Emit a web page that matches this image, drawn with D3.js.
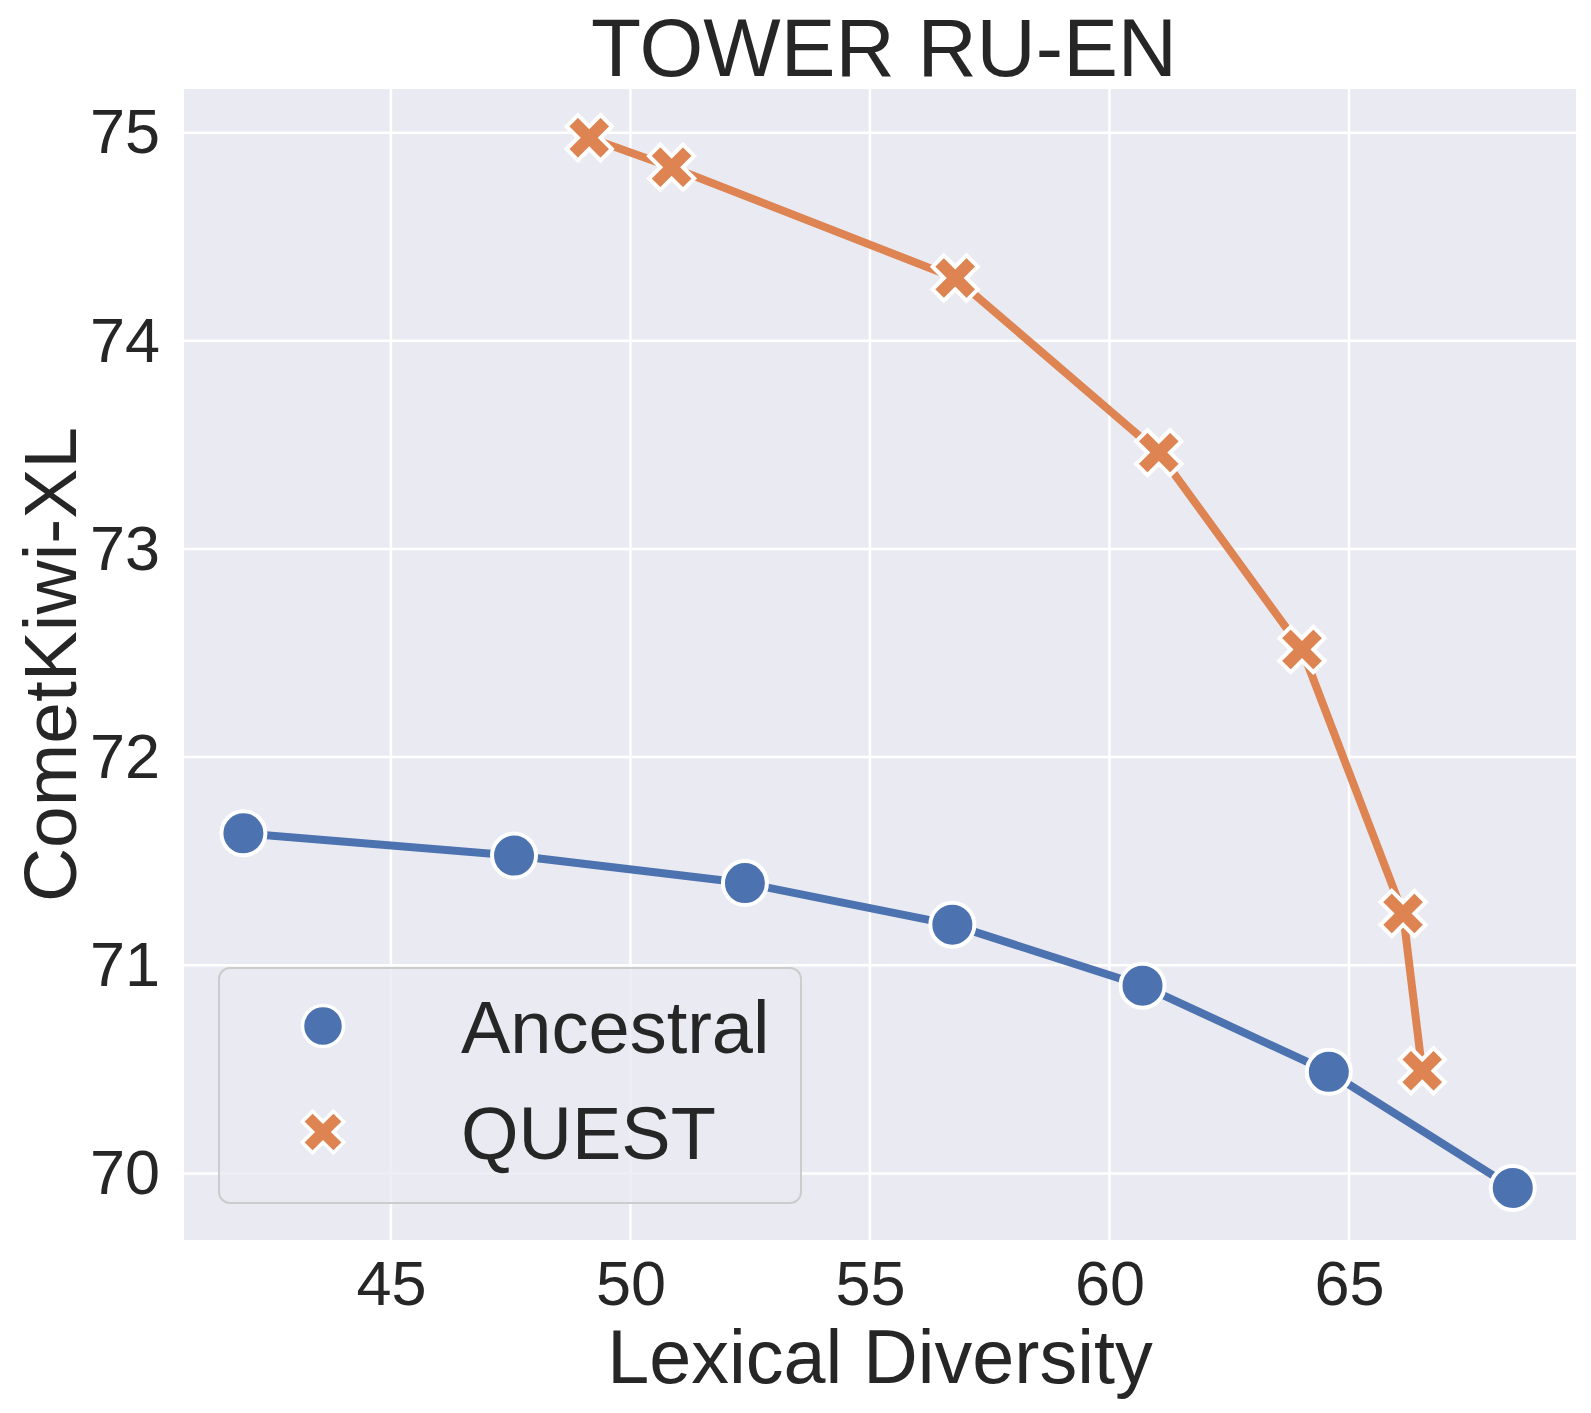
<!DOCTYPE html>
<html>
<head>
    <title>TOWER RU-EN</title>
    <script src="https://d3js.org/d3.v7.min.js"></script>
    <style>
        body { margin: 0; background: white; font-family: "Liberation Sans", Arial, sans-serif; }
        svg text { fill: #262626; }
    </style>
</head>
<body>
    <div id="chart"></div>
    <script>
        // Data
        const ancestralX = [41.92, 47.57, 52.39, 56.72, 60.69, 64.58, 68.42];
        const ancestralY = [71.634, 71.527, 71.395, 71.195, 70.902, 70.488, 69.93];
        const questX = [49.14, 50.86, 56.78, 61.03, 64.02, 66.13, 66.53];
        const questY = [74.976, 74.834, 74.302, 73.463, 72.517, 71.249, 70.493];
        const xTicks = [45, 50, 55, 60, 65];
        const yTicks = [70, 71, 72, 73, 74, 75];

        const width = 1591, height = 1413;
        const margin = { left: 184, right: 15, top: 89, bottom: 173 };

        const svg = d3.select("#chart").append("svg")
            .attr("width", width)
            .attr("height", height);

        const x = d3.scaleLinear().domain([40.68, 69.74]).range([margin.left, width - margin.right]);
        const y = d3.scaleLinear().domain([69.68, 75.21]).range([height - margin.bottom, margin.top]);

        // Plot background
        svg.append("rect")
            .attr("x", margin.left).attr("y", margin.top)
            .attr("width", width - margin.left - margin.right)
            .attr("height", height - margin.top - margin.bottom)
            .attr("fill", "#eaeaf2");

        // Grid
        const grid = svg.append("g");
        grid.selectAll(".gx").data(xTicks).enter().append("line")
            .attr("x1", d => x(d)).attr("x2", d => x(d))
            .attr("y1", margin.top).attr("y2", height - margin.bottom)
            .attr("stroke", "white").attr("stroke-width", 2.5);
        grid.selectAll(".gy").data(yTicks).enter().append("line")
            .attr("y1", d => y(d)).attr("y2", d => y(d))
            .attr("x1", margin.left).attr("x2", width - margin.right)
            .attr("stroke", "white").attr("stroke-width", 2.5);

        // Axes (labels only, seaborn darkgrid has no spines)
        const xAxis = svg.append("g")
            .attr("transform", `translate(0,${height - margin.bottom})`)
            .call(d3.axisBottom(x).tickValues(xTicks).tickSize(0).tickPadding(20).tickFormat(d3.format("d")));
        const yAxis = svg.append("g")
            .attr("transform", `translate(${margin.left},0)`)
            .call(d3.axisLeft(y).tickValues(yTicks).tickSize(0).tickPadding(24).tickFormat(d3.format("d")));
        [xAxis, yAxis].forEach(a => {
            a.select(".domain").remove();
            a.selectAll("text").attr("font-size", 63).attr("fill", "#262626")
                .attr("font-family", "Liberation Sans, Arial, sans-serif");
        });

        // Lines
        const ancestral = ancestralX.map((v, i) => [v, ancestralY[i]]);
        const quest = questX.map((v, i) => [v, questY[i]]);
        const line = d3.line().x(d => x(d[0])).y(d => y(d[1]));

        svg.append("path").datum(ancestral)
            .attr("d", line).attr("fill", "none")
            .attr("stroke", "#4c72b0").attr("stroke-width", 8);
        svg.append("path").datum(quest)
            .attr("d", line).attr("fill", "none")
            .attr("stroke", "#dd8452").attr("stroke-width", 8);

        // Filled X marker like matplotlib's "X"
        function xMarker(size) {
            const a = size / 2, b = size / 6, c = Math.SQRT1_2;
            const pts = [[-a,-b],[-b,-b],[-b,-a],[b,-a],[b,-b],[a,-b],[a,b],[b,b],[b,a],[-b,a],[-b,b],[-a,b]];
            return "M" + pts.map(p => [(p[0] - p[1]) * c, (p[0] + p[1]) * c].join(",")).join("L") + "Z";
        }

        svg.append("g").selectAll("circle").data(ancestral).enter().append("circle")
            .attr("cx", d => x(d[0])).attr("cy", d => y(d[1]))
            .attr("r", 22)
            .attr("fill", "#4c72b0").attr("stroke", "white").attr("stroke-width", 4);

        svg.append("g").selectAll("path").data(quest).enter().append("path")
            .attr("d", xMarker(48))
            .attr("transform", d => `translate(${x(d[0])},${y(d[1])})`)
            .attr("fill", "#dd8452").attr("stroke", "white").attr("stroke-width", 4);

        // Legend
        const legend = svg.append("g");
        legend.append("rect")
            .attr("x", 219).attr("y", 968)
            .attr("width", 582).attr("height", 235)
            .attr("rx", 11).attr("ry", 11)
            .attr("fill", "#eaeaf2").attr("fill-opacity", 0.8)
            .attr("stroke", "#cccccc").attr("stroke-width", 2);
        legend.append("circle")
            .attr("cx", 323).attr("cy", 1026).attr("r", 20.5)
            .attr("fill", "#4c72b0").attr("stroke", "white").attr("stroke-width", 3.5);
        legend.append("path")
            .attr("d", xMarker(44))
            .attr("transform", "translate(323,1132)")
            .attr("fill", "#dd8452").attr("stroke", "white").attr("stroke-width", 3.5);
        legend.append("text").attr("x", 461).attr("y", 1053)
            .attr("font-size", 74).text("Ancestral");
        legend.append("text").attr("x", 461).attr("y", 1159)
            .attr("font-size", 74).text("QUEST");

        // Title and axis labels
        const midX = x.range()[0] + (x.range()[1] - x.range()[0]) / 2;
        svg.append("text")
            .attr("x", midX + 4).attr("y", 76)
            .attr("text-anchor", "middle").attr("font-size", 82)
            .text("TOWER RU-EN");
        svg.append("text")
            .attr("x", midX).attr("y", 1383)
            .attr("text-anchor", "middle").attr("font-size", 75.5)
            .text("Lexical Diversity");
        svg.append("text")
            .attr("transform", `translate(76,${(margin.top + height - margin.bottom) / 2}) rotate(-90)`)
            .attr("text-anchor", "middle").attr("font-size", 75)
            .text("CometKiwi-XL");
    </script>
</body>
</html>
